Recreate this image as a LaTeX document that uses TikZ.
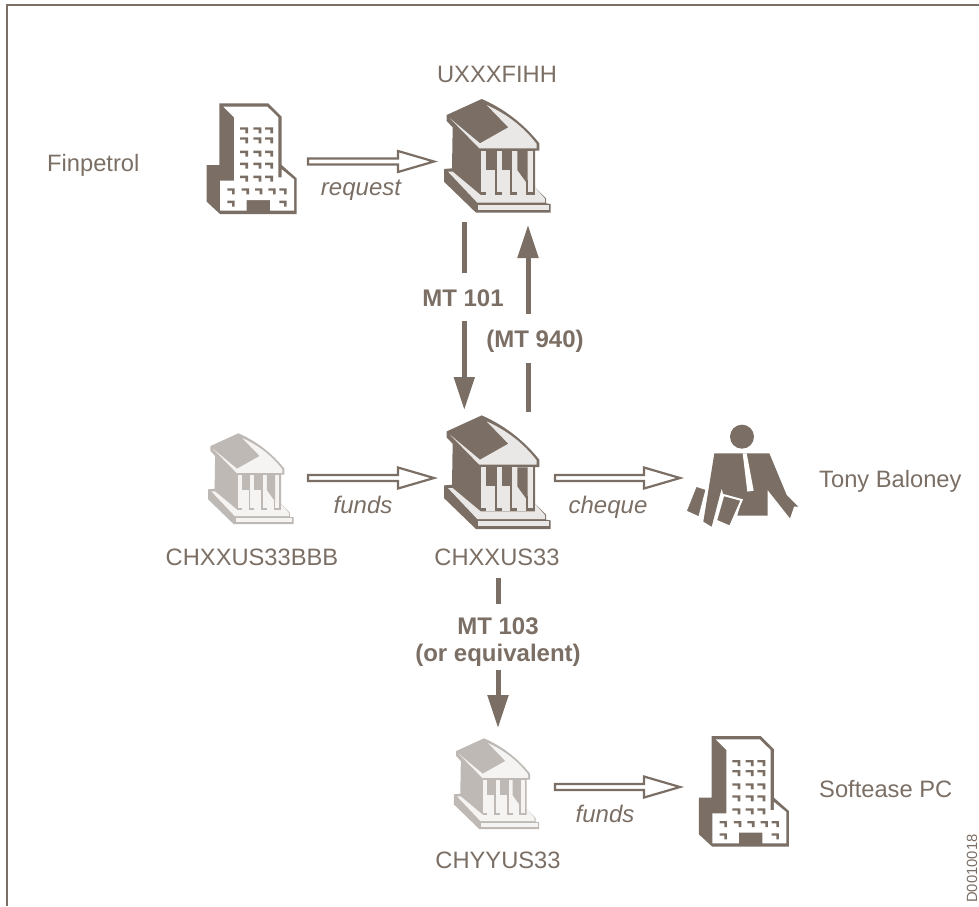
\documentclass[tikz,border=0pt]{standalone}
\usepackage{fontspec}
\setmainfont{Liberation Sans}
\usetikzlibrary{calc,arrows.meta}
\definecolor{ink}{HTML}{7B6F65}
\definecolor{inklt}{HTML}{BEB9B4}
\definecolor{palea}{HTML}{EAE8E6}
\definecolor{paleb}{HTML}{F5F4F3}
\newcommand{\bankicon}[5]{%
\begin{scope}[shift={(#1,#2)},scale=#3/3]
\fill[#4] (125,27) -- (20,75) -- (20,93) -- (38,112) -- (36,235) -- (12,237) -- (12,275) -- (108,368) -- (332,368) -- (332,342) -- (318,340) -- (318,325) -- (285,292) -- (285,182) -- (298,182) -- (298,160) .. controls (250,100) and (190,55) .. (125,27) -- cycle;
\fill[#5] (140,45) .. controls (200,72) and (250,110) .. (290,162) -- (290,175) -- (118,175) -- (30,85) -- (120,160) -- (205,112) -- cycle;
\fill[#5] (122,183) rectangle (278,315);
\fill[#5] (24,245) -- (38,245) -- (122,315) -- (285,315) -- (285,292) -- (315,326) -- (315,338) -- (112,338) -- cycle;
\fill[#5] (115,345) rectangle (328,360);
\fill[#4] (137,183) -- (170,183) -- (170,240) -- (137,240) -- cycle;
\fill[#4] (185,183) -- (217,183) -- (217,240) -- (185,240) -- cycle;
\fill[#4] (232,183) -- (263,183) -- (263,283) -- (232,240) -- cycle;
\fill[#4] (122,306) rectangle (137,314);
\fill[#4] (164,240) rectangle (170,314);
\fill[#4] (164,306) rectangle (185,314);
\fill[#4] (211,240) rectangle (217,314);
\fill[#4] (211,306) rectangle (232,314);
\fill[#4] (257,270) rectangle (263,314);
\fill[#4] (257,306) rectangle (278,314);
\end{scope}}
\newcommand{\towericon}[2]{%
\begin{scope}[shift={(#1,#2)},scale=1/3]
\fill[ink] (88,130) -- (235,130) -- (275,170) -- (275,315) -- (320,355) -- (320,462) -- (90,462) -- (50,425) -- (50,315) -- (88,315) -- cycle;
\fill[white] (100,140) -- (232,140) -- (265,172) -- (265,352) -- (275,352) -- (275,328) -- (312,358) -- (312,452) -- (240,452) -- (240,420) -- (170,420) -- (170,452) -- (90,452) -- (90,362) -- (132,362) -- (132,172) -- cycle;
\foreach \wy in {202,232,272,308,347}
  \foreach \wx in {150,190,225}
    \fill[ink] (\wx,\wy) -- ++(24,0) -- ++(0,18) -- ++(-8,0) -- ++(0,-11) -- ++(-16,0) -- cycle;
\foreach \wx in {112,155,195,235,268}
  \fill[ink] (\wx,385) -- ++(22,0) -- ++(0,18) -- ++(-8,0) -- ++(0,-11) -- ++(-14,0) -- cycle;
\foreach \wx in {112,268}
  \fill[ink] (\wx,422) -- ++(22,0) -- ++(0,18) -- ++(-8,0) -- ++(0,-11) -- ++(-14,0) -- cycle;
\end{scope}}
\tikzset{
  lab/.style={text=ink,font=\fontsize{23.7}{26}\selectfont,inner sep=0pt,anchor=base},
  labw/.style={lab,anchor=base west},
  flow/.style={lab,font=\fontsize{24}{26}\selectfont\itshape},
  msg/.style={text=ink,font=\fontsize{24}{27}\selectfont\bfseries,inner sep=0pt,align=center},
  harrow/.style={draw=ink,fill=white,line width=2.2pt,miter limit=10},
  sarrow/.style={draw=ink,line width=5pt,-{Triangle[length=33pt,width=20pt,fill=ink]}},
}
\newcommand{\hollow}[2]{%
\draw[harrow] ($(#1)+(0,-3)$) -- ($(#2)+(-36,-3)$) -- ($(#2)+(-36,-10.5)$) -- (#2) -- ($(#2)+(-36,10.5)$) -- ($(#2)+(-36,3)$) -- ($(#1)+(0,3)$) -- cycle;}
\begin{document}
\begin{tikzpicture}[x=1pt,y=-1pt]
\useasboundingbox (0,0) rectangle (979,906);
\draw[ink,line width=2pt] (979,5) -- (6.5,5) -- (6.5,906);

\bankicon{440}{90}{1}{ink}{palea}
\bankicon{440}{406.4}{1}{ink}{palea}
\bankicon{205}{426.1}{0.8}{inklt}{paleb}
\bankicon{450.7}{731.1}{0.8}{inklt}{paleb}
\towericon{190}{60}
\towericon{682.3}{692.7}

\begin{scope}[shift={(640,400)},scale=1/3]
\fill[ink] (306,110) circle (36);
\fill[ink] (223,160) -- (388,160) -- (440,285) -- (475,320) -- (462,320) -- (450,355) -- (383,270) -- (383,347) -- (292,347) -- (305,300) -- (250,285) -- (245,265) -- (215,380) -- (190,365) -- cycle;
\fill[white] (308,160) -- (320,160) -- (341,272) -- (322,275) -- cycle;
\draw[ink,fill=ink] (170,262) -- (195,270) -- (175,347) -- (142,332) -- cycle;
\draw[white,fill=ink,line width=2pt] (250,285) -- (305,300) -- (270,380) -- (228,362) -- cycle;
\end{scope}

\coordinate (reqa) at (308,161.5); \coordinate (reqb) at (434,161.5);
\coordinate (fuaa) at (308,478);   \coordinate (fuab) at (434,478);
\coordinate (chqa) at (555,478);   \coordinate (chqb) at (680,478);
\coordinate (fuba) at (555,787);   \coordinate (fubb) at (680,787);
\hollow{reqa}{reqb}
\hollow{fuaa}{fuab}
\hollow{chqa}{chqb}
\hollow{fuba}{fubb}

\coordinate (moa) at (464.3,222);  \coordinate (mob) at (464.3,410);
\coordinate (mfa) at (528,412);    \coordinate (mfb) at (528,225);
\coordinate (mta) at (498,578);    \coordinate (mtb) at (498,728);
\draw[sarrow] (moa) -- (mob);
\draw[sarrow] (mfa) -- (mfb);
\draw[sarrow] (mta) -- (mtb);
\fill[white] (420,272.5) rectangle (508,320.5);
\fill[white] (484,314) rectangle (585,362.5);
\fill[white] (450,604) rectangle (585,670);

\node[msg,anchor=base] (lmto) at (463,306) {MT 101};
\node[msg,anchor=base] (lmtf) at (535,347) {(MT 940)};
\node[msg,anchor=base] (lmtt) at (498,634) {MT 103};
\node[msg,anchor=base] (lmte) at (498,661) {(or equivalent)};

\node[labw] (fin) at (47,171) {Finpetrol};
\node[lab] (uxx) at (497,82) {UXXXFIHH};
\node[flow] (req) at (361,195) {request};
\node[flow] (fua) at (363,513) {funds};
\node[flow] (chq) at (608,513) {cheque};
\node[lab] (chb) at (252,565) {CHXXUS33BBB};
\node[lab] (chx) at (497,565) {CHXXUS33};
\node[labw] (ton) at (819,487) {Tony Baloney};
\node[flow] (fub) at (605,822) {funds};
\node[lab] (chy) at (498,868) {CHYYUS33};
\node[labw] (sof) at (819,797) {Softease PC};
\node[text=ink,font=\fontsize{14.8}{16}\selectfont,inner sep=0pt,rotate=90,anchor=base west] (doc) at (977,903) {D0010018};
\end{tikzpicture}
\end{document}
